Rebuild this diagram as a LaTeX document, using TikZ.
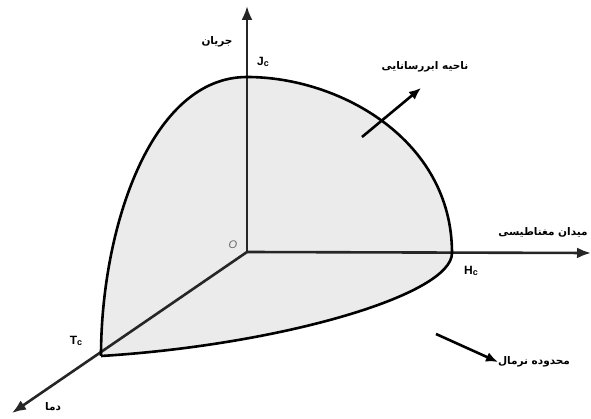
\documentclass[tikz,border=0pt]{standalone}
\usepackage{fontspec}
\setsansfont{Liberation Sans}
\newfontfamily\arabicfont[Script=Arabic]{DejaVu Sans}
\TeXXeTstate=1
\usetikzlibrary{arrows.meta, positioning}

\begin{document}
\begin{tikzpicture}[
    x=1pt, y=-1pt,
    axis/.style={line width=2.6pt, draw=black!85, -{Latex[length=14pt, width=11pt]}},
    edge/.style={line width=2.6pt, draw=black},
    region/.style={fill=black!8, draw=none},
    pointer/.style={-{Latex[length=12pt, width=10pt]}, line width=2.6pt},
    fa/.style={font=\arabicfont\bfseries\fontsize{10.5}{12}\selectfont, inner sep=1pt},
    lbl/.style={font=\sffamily\bfseries\fontsize{12}{14}\selectfont, inner sep=1pt}
  ]
  \useasboundingbox (0,0) rectangle (591,419);

  % points of the phase diagram
  \coordinate (O)  at (247,252);
  \coordinate (jc) at (247,77);
  \coordinate (hc) at (452,253);
  \coordinate (tc) at (101,356);
  \coordinate (jtop)  at (247,6);
  \coordinate (hend)  at (591,253);
  \coordinate (tend)  at (12,413);

  % superconducting region
  \path[region] (tc) .. controls (101,230) and (150,77) .. (jc)
        .. controls (340,77) and (452,140) .. (hc)
        .. controls (452,295) and (280,345) .. (tc) -- cycle;

  % axes
  \draw[axis] (O) -- (jtop);
  \draw[axis] (O) -- (hend);
  \draw[axis] (O) -- (tend);

  % boundary
  \draw[edge] (tc) .. controls (101,230) and (150,77) .. (jc)
        .. controls (340,77) and (452,140) .. (hc)
        .. controls (452,295) and (280,345) .. (tc);

  \node[lbl] (jlbl) at (263,62) {J\raisebox{-0.25ex}{\fontsize{9}{10}\selectfont c}};
  \node[lbl] (hlbl) at (471,271) {H\raisebox{-0.25ex}{\fontsize{9}{10}\selectfont c}};
  \node[lbl] (tlbl) at (76,341) {T\raisebox{-0.25ex}{\fontsize{9}{10}\selectfont c}};
  \node[font=\sffamily\itshape\fontsize{11}{12}\selectfont, text=black!60] (olbl) at (233,245) {O};

  \node[fa] (current) at (217,42) {\beginR جریان\endR};
  \node[fa] (field) at (543,232) {\beginR میدان مغناطیسی\endR};
  \node[fa] (temp) at (53,407) {\beginR دما\endR};
  \node[fa] (scname) at (425,67) {\beginR ناحیه ابررسانایی\endR};
  \node[fa] (normal) at (534,362) {\beginR محدوده نرمال\endR};

  % pointers
  \coordinate (scfrom) at (362,137);
  \coordinate (scto)   at (421,88);
  \coordinate (nfrom)  at (436,334);
  \coordinate (nto)    at (498,362);
  \draw[pointer] (scfrom) -- (scto);
  \draw[pointer] (nfrom) -- (nto);
\end{tikzpicture}
\end{document}
